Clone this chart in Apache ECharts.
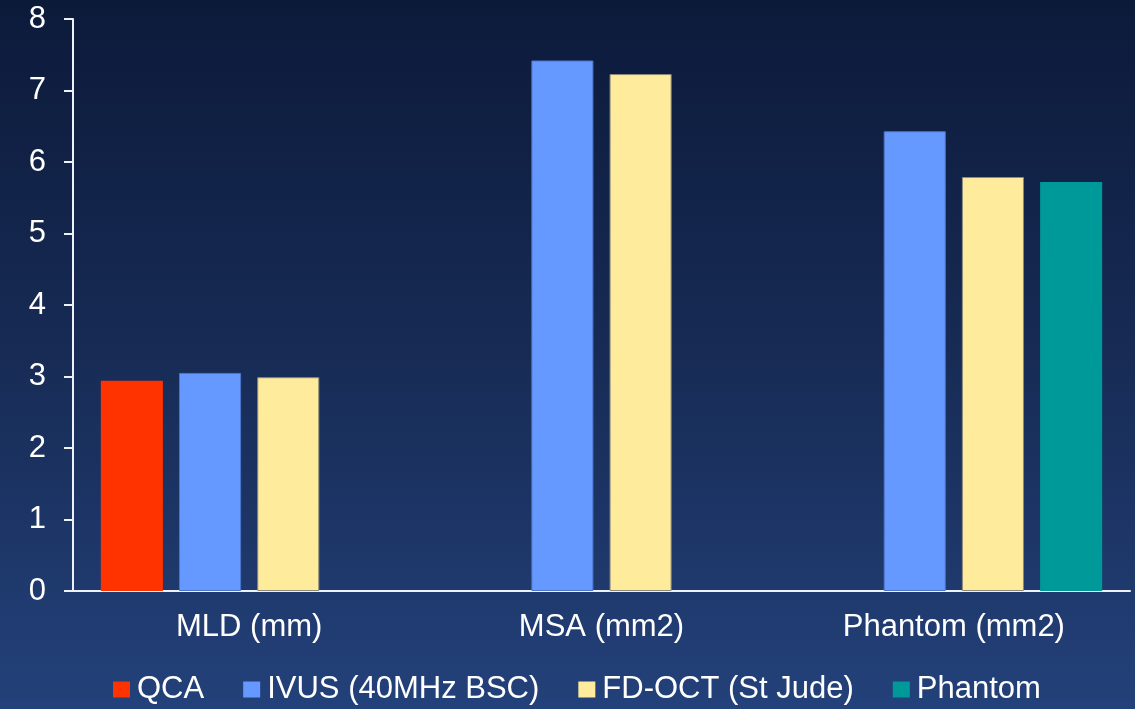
<!DOCTYPE html>
<html>
<head>
<meta charset="utf-8">
<title>MLD / MSA / Phantom comparison</title>
<script src="https://cdn.jsdelivr.net/npm/echarts@6/dist/echarts.min.js"></script>
<style>
  html, body { margin: 0; padding: 0; }
  #chart { width: 1135px; height: 709px; }
</style>
</head>
<body>
<div id="chart"></div>
<script>
// Measurement categories
const categories = ['MLD (mm)', 'MSA (mm2)', 'Phantom (mm2)'];

// Series values per category (null = not measured)
const qcaValues     = [2.94, null, null];
const ivusValues    = [3.05, 7.42, 6.43];
const fdOctValues   = [2.99, 7.23, 5.79];
const phantomValues = [null, null, 5.72];

// Series names as shown in the legend
const seriesNames = ['QCA', 'IVUS (40MHz BSC)', 'FD-OCT (St Jude)', 'Phantom'];

// Y axis range
const yMin = 0;
const yMax = 8;
const yStep = 1;

const FONT = '"Liberation Sans", Arial, Helvetica, sans-serif';
const TEXT = '#ffffff';
const FS = 31;

const chart = echarts.init(document.getElementById('chart'), null, { renderer: 'canvas' });

const barBase = {
  type: 'bar',
  barGap: '26%',
  barCategoryGap: '15.8%',
  emphasis: { disabled: true }
};

chart.setOption({
  animation: false,
  backgroundColor: {
    type: 'linear', x: 0, y: 0, x2: 0, y2: 1,
    colorStops: [
      { offset: 0, color: '#0c1a3a' },
      { offset: 0.5, color: '#172b55' },
      { offset: 1, color: '#23417a' }
    ]
  },
  textStyle: { fontFamily: FONT },
  grid: { left: 73, right: 5, top: 19, bottom: 118, containLabel: false },
  legend: {
    data: seriesNames,
    left: 113,
    top: 674,
    padding: 0,
    itemWidth: 17,
    itemHeight: 16,
    itemGap: 39,
    icon: 'rect',
    selectedMode: false,
    itemStyle: { borderWidth: 0 },
    textStyle: { color: TEXT, fontSize: FS, fontFamily: FONT, padding: [0, 0, 0, 2] }
  },
  xAxis: {
    type: 'category',
    data: categories,
    axisLine: { show: true, lineStyle: { color: '#eef1f7', width: 2 } },
    axisTick: { show: false },
    axisLabel: { color: TEXT, fontSize: FS, fontFamily: FONT, margin: 21 },
    splitLine: { show: false }
  },
  yAxis: {
    type: 'value',
    min: yMin,
    max: yMax,
    interval: yStep,
    axisLine: { show: true, lineStyle: { color: '#eef1f7', width: 2 } },
    axisTick: { show: true, inside: false, length: 9, lineStyle: { color: '#eef1f7', width: 2 } },
    axisLabel: { color: TEXT, fontSize: FS, fontFamily: FONT, margin: 27 },
    splitLine: { show: false }
  },
  series: [
    Object.assign({}, barBase, {
      name: seriesNames[0],
      data: qcaValues,
      itemStyle: { color: '#ff3300' }
    }),
    Object.assign({}, barBase, {
      name: seriesNames[1],
      data: ivusValues,
      itemStyle: { color: '#6699ff', borderColor: '#4d74c8', borderWidth: 1 }
    }),
    Object.assign({}, barBase, {
      name: seriesNames[2],
      data: fdOctValues,
      itemStyle: { color: '#ffeb9c', borderColor: '#8c8a78', borderWidth: 1 }
    }),
    Object.assign({}, barBase, {
      name: seriesNames[3],
      data: phantomValues,
      itemStyle: { color: '#009999' }
    })
  ]
});
</script>
</body>
</html>
